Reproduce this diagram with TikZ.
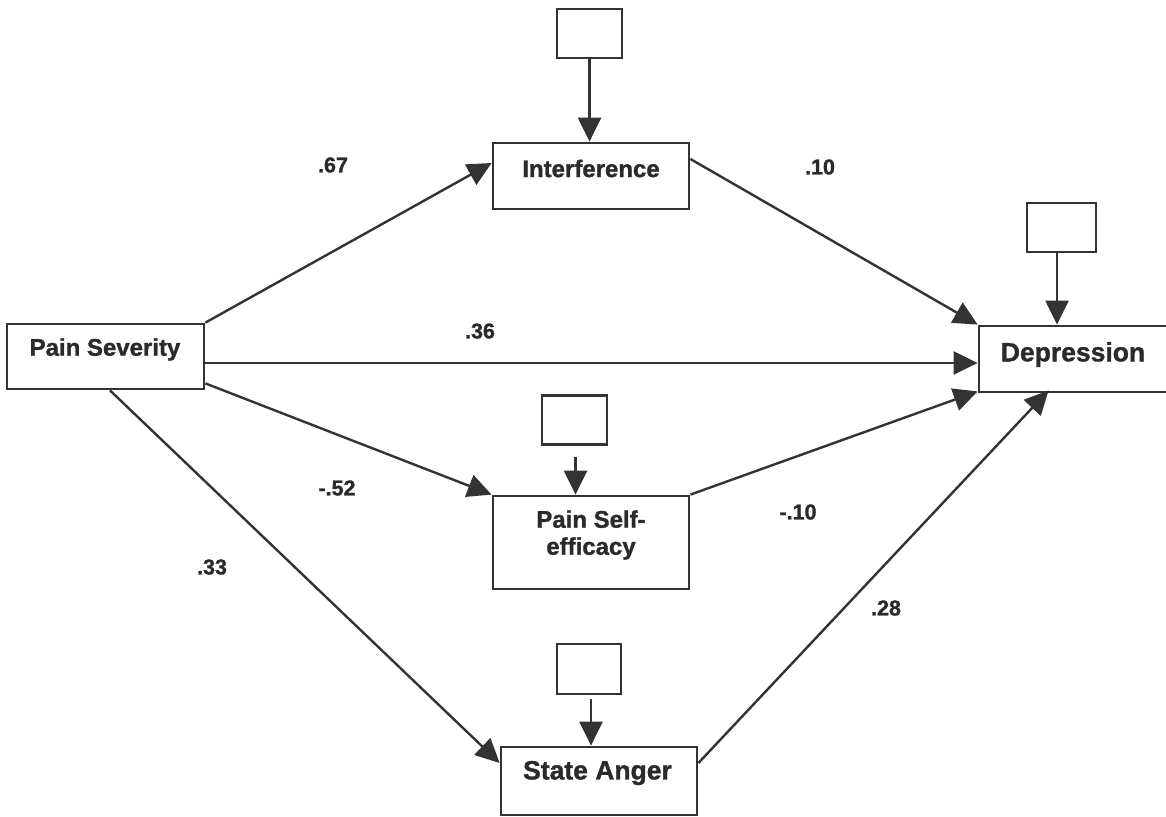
\documentclass[tikz,border=0pt]{standalone}
\usepackage{fontspec}
\setmainfont{Liberation Sans}[BoldFeatures={FakeBold=1.2}]
\usetikzlibrary{arrows.meta,calc}
\definecolor{ink}{HTML}{333333}
\definecolor{txt}{HTML}{2A2A2A}
\tikzset{
  varbox/.style={draw=ink, line width=2.8pt, inner sep=0pt, fill=white},
  errbox/.style={draw=ink, line width=2.8pt, inner sep=0pt, minimum width=65pt, minimum height=49pt},
  vartext/.style={text=txt, font=\fontsize{24}{27}\selectfont\bfseries, inner sep=0pt, align=center},
  bigtext/.style={text=txt, font=\fontsize{26.5}{29}\selectfont\bfseries, inner sep=0pt},
  coef/.style={text=txt, font=\fontsize{21.5}{24}\selectfont\bfseries, inner sep=0pt},
  path/.style={draw=ink, line width=2.4pt, -{Triangle[length=24pt,width=23pt]}},
}
\begin{document}
\begin{tikzpicture}[x=1pt,y=-1pt]
\clip (0,0) rectangle (1166,816);
\fill[white] (0,0) rectangle (1166,816);

% variable boxes
\node[varbox, minimum width=197pt, minimum height=65pt] (ps)  at (105.5,356.5) {};
\node[varbox, minimum width=196pt, minimum height=66pt] (int) at (591,176) {};
\node[varbox, minimum width=201pt, minimum height=66pt] (dep) at (1079.5,359) {};
\node[varbox, minimum width=196pt, minimum height=93pt] (se)  at (591,542.5) {};
\node[varbox, minimum width=196pt, minimum height=68pt] (sa)  at (599,781) {};

% variable names
\node[vartext] (pst)  at (105,349.5) {Pain Severity};
\node[vartext] (intt) at (591,168.5) {Interference};
\node[bigtext] (dept) at (1073,354.5) {Depression};
\node[vartext] (set)  at (591,535) {Pain Self-\\efficacy};
\node[bigtext] (sat)  at (597.5,773) {State Anger};

% residual boxes
\node[errbox] (e1) at (589.5,33.5) {};
\node[errbox, minimum width=69pt] (e2) at (1061.5,227.5) {};
\node[errbox] (e3) at (574.5,420) {};
\node[errbox, minimum width=64pt, minimum height=50pt] (e4) at (589,669) {};

% residual paths
\coordinate (e1s) at ($(e1.south)+(0,0)$);
\draw[path] (e1s) -- (e1s |- int.north);
\coordinate (e2s) at ($(e2.south)+(-4.5,0)$);
\draw[path] (e2s) -- (e2s |- dep.north);
\coordinate (e3s) at ($(e3.south)+(1,11)$);
\draw[path] (e3s) -- (e3s |- se.north);
\coordinate (e4s) at ($(e4.south)+(2,4)$);
\draw[path] (e4s) -- (e4s |- sa.north);

% structural paths
\draw[path] (ps.north east) -- ($(int.west)+(0,-13)$);
\draw[path] ($(int.east)+(0,-17)$) -- (dep.north west);
\draw[path] ($(ps.east)+(0,6.5)$) -- ($(dep.west)+(0,4)$);
\draw[path] ($(ps.south east)+(0,-7)$) -- (se.north west);
\draw[path] (se.north east) -- ($(dep.south west)+(0,-2)$);
\draw[path] ($(ps.south)+(4.5,0)$) -- ($(sa.west)+(0,-18)$);
\draw[path] ($(sa.east)+(0,-18)$) -- ($(dep.south west)+(71,-3)$);

% path coefficients
\node[coef] (c1) at (333,165) {.67};
\node[coef] (c2) at (820,167) {.10};
\node[coef] (c3) at (480,331) {.36};
\node[coef] (c4) at (337,488) {-.52};
\node[coef] (c5) at (798,512) {-.10};
\node[coef] (c6) at (212,567) {.33};
\node[coef] (c7) at (886,608) {.28};
\end{tikzpicture}
\end{document}
